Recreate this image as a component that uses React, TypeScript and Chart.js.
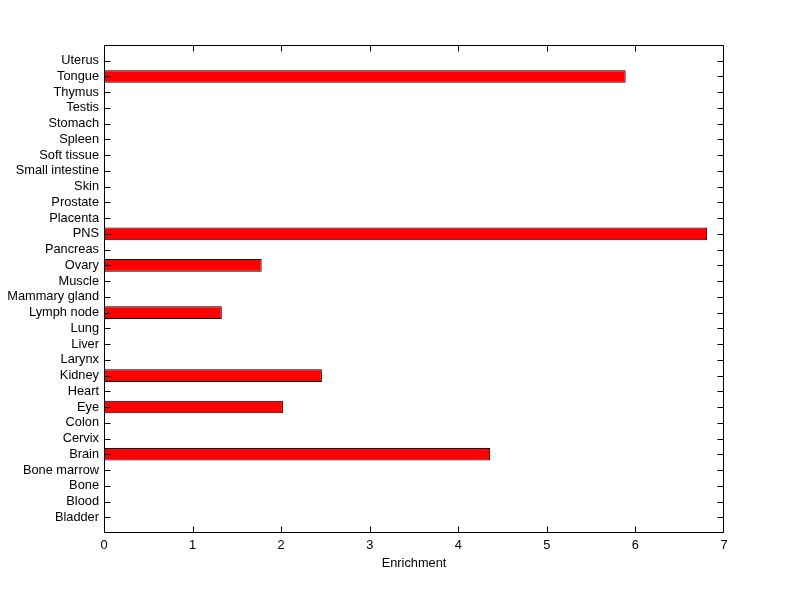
import React, { useEffect, useRef } from "react";
import { Chart, registerables } from "chart.js";

Chart.register(...registerables);

// Categories listed bottom to top
const categories: string[] = [
  "Bladder", "Blood", "Bone", "Bone marrow", "Brain", "Cervix", "Colon", "Eye",
  "Heart", "Kidney", "Larynx", "Liver", "Lung", "Lymph node", "Mammary gland",
  "Muscle", "Ovary", "Pancreas", "PNS", "Placenta", "Prostate", "Skin",
  "Small intestine", "Soft tissue", "Spleen", "Stomach", "Testis", "Thymus",
  "Tongue", "Uterus",
];

const enrichment: number[] = [
  0, 0, 0, 0, 4.36, 0, 0, 2.02,
  0, 2.46, 0, 0, 0, 1.33, 0,
  0, 1.78, 0, 6.81, 0, 0, 0,
  0, 0, 0, 0, 0, 0,
  5.89, 0,
];

const xTicks: number[] = [0, 1, 2, 3, 4, 5, 6, 7];
const xTitle = "Enrichment";

const FONT = "'Liberation Sans', Arial, Helvetica, sans-serif";
const FS = 12.8;

const boxPlugin = {
  id: "matlabBox",
  afterDraw(chart: any) {
    const { ctx, chartArea, scales } = chart;
    const { left, right, top, bottom } = chartArea;
    const L = Math.round(left) + 0.5;
    const R = Math.round(right) - 0.5;
    const T = Math.round(top) + 0.5;
    const B = Math.round(bottom) - 0.5;
    const tl = 6;
    ctx.save();
    ctx.strokeStyle = "#000";
    ctx.lineWidth = 1;
    ctx.beginPath();
    ctx.rect(L, T, R - L, B - T);
    // x ticks (top & bottom, inward)
    scales.x.ticks.forEach((t: any) => {
      const px = Math.min(R, Math.max(L, Math.round(scales.x.getPixelForValue(t.value)) + 0.5));
      ctx.moveTo(px, B);
      ctx.lineTo(px, B - tl);
      ctx.moveTo(px, T);
      ctx.lineTo(px, T + tl);
    });
    // y ticks (left & right, inward)
    scales.y.ticks.forEach((t: any, i: number) => {
      const lab = scales.y.getLabelForValue(t.value);
      if (!lab) return;
      const py = Math.round(scales.y.getPixelForTick(i)) + 0.5;
      ctx.moveTo(L, py);
      ctx.lineTo(L + tl, py);
      ctx.moveTo(R, py);
      ctx.lineTo(R - tl, py);
    });
    ctx.stroke();
    ctx.restore();
  },
};

export default function App() {
  const ref = useRef<HTMLCanvasElement | null>(null);
  useEffect(() => {
    if (!ref.current) return;
    const labels = ["", ...categories, ""];
    const data = [null, ...enrichment, null];
    const chart = new Chart(ref.current, {
      type: "bar",
      data: {
        labels,
        datasets: [
          {
            data: data as any,
            backgroundColor: "#ff0000",
            borderColor: "#000000",
            borderWidth: 1,
            borderSkipped: false,
            barPercentage: 0.8,
            categoryPercentage: 1,
          },
        ],
      },
      options: {
        indexAxis: "y",
        responsive: false,
        animation: false,
        events: [],
        layout: { padding: { left: 0, right: 76, top: 45, bottom: 0 } },
        plugins: { legend: { display: false }, tooltip: { enabled: false } },
        scales: {
          x: {
            type: "linear",
            min: xTicks[0],
            max: xTicks[xTicks.length - 1],
            afterBuildTicks: (s: any) => {
              s.ticks = xTicks.map((v) => ({ value: v }));
            },
            afterFit: (s: any) => {
              s.height = 66;
            },
            grid: { display: false, drawTicks: false },
            border: { display: false },
            ticks: {
              color: "#000",
              font: { family: FONT, size: FS },
              padding: 5,
              maxRotation: 0,
            },
            title: {
              display: true,
              text: xTitle,
              color: "#000",
              font: { family: FONT, size: FS },
              padding: { top: 0, bottom: 28 },
            },
          },
          y: {
            type: "category",
            reverse: true,
            offset: false,
            afterFit: (s: any) => {
              s.width = 104;
            },
            grid: { display: false, drawTicks: false },
            border: { display: false },
            ticks: {
              color: "#000",
              font: { family: FONT, size: FS },
              padding: 5,
              autoSkip: false,
            },
          },
        },
      },
      plugins: [boxPlugin],
    });
    return () => chart.destroy();
  }, []);
  return (
    <div style={{ position: "fixed", left: 0, top: 0, width: 800, height: 599, background: "#fff" }}>
      <canvas ref={ref} width={800} height={599} />
    </div>
  );
}
